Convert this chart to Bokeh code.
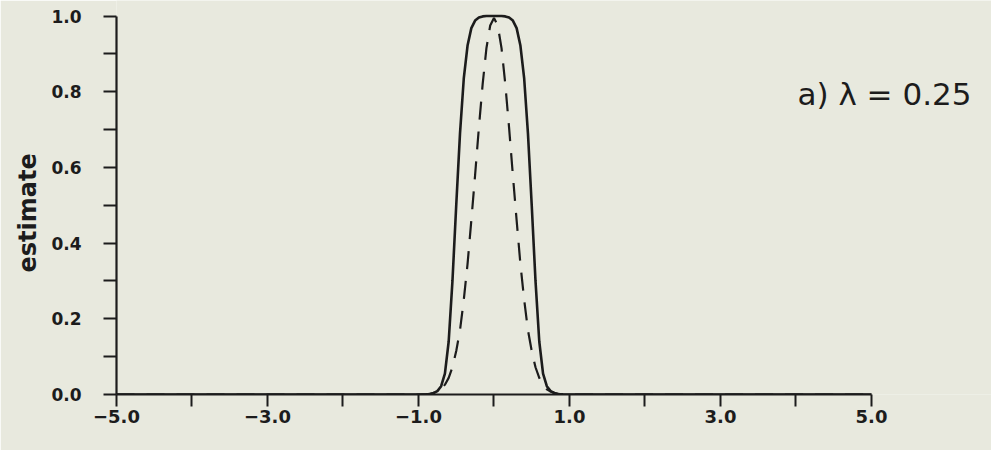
from bokeh.plotting import figure
from bokeh.models import FixedTicker, Label, Range1d, Title
from bokeh.embed import file_html
from bokeh.resources import INLINE

# ---- data ----
x_vals = [-5.0, -1.0, -0.9, -0.85, -0.8, -0.75, -0.7, -0.65, -0.6, -0.55, -0.5,
          -0.45, -0.4, -0.35, -0.3, -0.25, -0.2, -0.15, -0.1, -0.05, 0.0,
          0.05, 0.1, 0.15, 0.2, 0.25, 0.3, 0.35, 0.4, 0.45, 0.5,
          0.55, 0.6, 0.65, 0.7, 0.75, 0.8, 0.85, 0.9, 1.0, 5.0]
solid_vals = [0.0, 0.0, 0.0, 0.001, 0.004, 0.009, 0.022, 0.055, 0.14, 0.30, 0.50,
              0.69, 0.835, 0.922, 0.968, 0.988, 0.996, 0.999, 1.0, 1.0, 1.0,
              1.0, 1.0, 0.999, 0.996, 0.988, 0.968, 0.922, 0.835, 0.69, 0.50,
              0.30, 0.14, 0.055, 0.022, 0.009, 0.004, 0.001, 0.0, 0.0, 0.0]
dashed_vals = [0.0, 0.0, 0.001, 0.002, 0.004, 0.008, 0.014, 0.026, 0.044, 0.072, 0.115,
               0.17, 0.25, 0.345, 0.46, 0.58, 0.705, 0.82, 0.915, 0.975, 0.995,
               0.975, 0.915, 0.82, 0.705, 0.58, 0.46, 0.345, 0.25, 0.17, 0.115,
               0.072, 0.044, 0.026, 0.014, 0.008, 0.004, 0.002, 0.001, 0.0, 0.0]

x_major_ticks = [-5, -3, -1, 1, 3, 5]
x_minor_ticks = [-4, -2, 0, 2, 4]
x_tick_labels = ["\u22125.0", "\u22123.0", "\u22121.0", "1.0", "3.0", "5.0"]
y_major_ticks = [0.0, 0.2, 0.4, 0.6, 0.8, 1.0]
y_minor_ticks = [0.1, 0.3, 0.5, 0.7, 0.9]
y_tick_labels = ["0.0", "0.2", "0.4", "0.6", "0.8", "1.0"]
y_axis_title = "estimate"
panel_title = "a) \u03bb = 0.25"

BG = "#e8e9de"
INK = "#1c1c1c"

p = figure(width=991, height=450, output_backend="svg", toolbar_location=None,
           x_range=Range1d(-5.0, 6.59), y_range=Range1d(0.0, 1.041),
           min_border_left=116, min_border_right=0, min_border_top=0,
           min_border_bottom=56)
p.background_fill_color = BG
p.border_fill_color = BG
p.outline_line_color = None
p.grid.visible = False

p.line(x_vals, solid_vals, line_color=INK, line_width=2.6)
p.line(x_vals, dashed_vals, line_color=INK, line_width=2.2, line_dash="18 12")

# axes
xa = p.xaxis[0]
xa.ticker = FixedTicker(ticks=x_major_ticks, minor_ticks=x_minor_ticks)
xa.major_label_overrides = {t: l for t, l in zip(x_major_ticks, x_tick_labels)}
xa.bounds = (-5, 5)
ya = p.yaxis[0]
ya.ticker = FixedTicker(ticks=y_major_ticks, minor_ticks=y_minor_ticks)
ya.major_label_overrides = {t: l for t, l in zip(y_major_ticks, y_tick_labels)}
ya.bounds = (0, 1)

for ax in (xa, ya):
    ax.axis_line_color = INK
    ax.axis_line_width = 2.2
    ax.major_tick_line_color = INK
    ax.minor_tick_line_color = INK
    ax.major_tick_line_width = 2
    ax.minor_tick_line_width = 2
    ax.major_tick_in = 0
    ax.minor_tick_in = 0
    ax.major_label_text_font = "DejaVu Sans"
    ax.major_label_text_font_style = "bold"
    ax.major_label_text_color = INK

xa.major_label_text_font_size = "18px"
ya.major_label_text_font_size = "17px"
xa.major_tick_out = 12
xa.minor_tick_out = 12
xa.major_label_standoff = 3
ya.major_tick_out = 13
ya.minor_tick_out = 13
ya.major_label_standoff = 22

p.add_layout(Title(text=y_axis_title, align="left", offset=122, standoff=14,
                   text_font="DejaVu Sans", text_font_style="bold",
                   text_font_size="24px", text_color=INK,
                   background_fill_color=None), "left")

p.add_layout(Label(x=4.02, y=0.795, text=panel_title,
                   text_align="left", text_baseline="alphabetic",
                   text_font="DejaVu Sans", text_font_size="31px",
                   text_color=INK))

open("out.html", "w").write(file_html(p, INLINE))
